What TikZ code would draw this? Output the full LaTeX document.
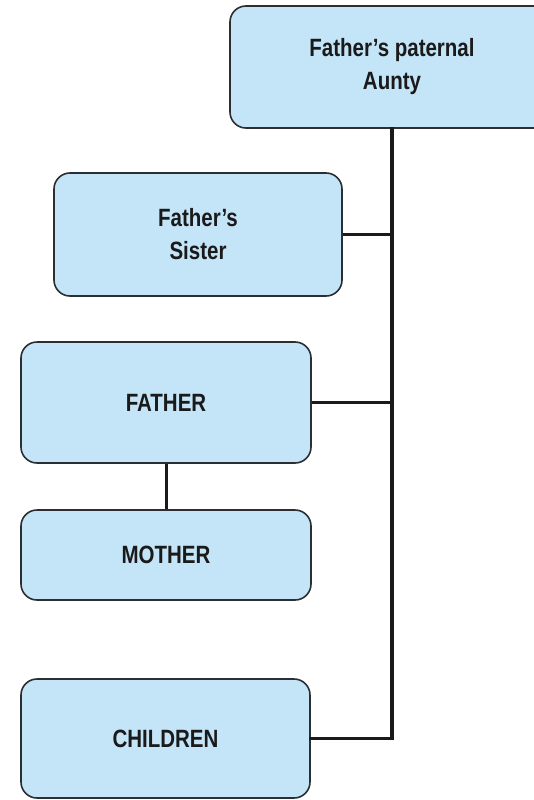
\documentclass[tikz,border=0pt]{standalone}
\usepackage{fontspec}
\setmainfont{Liberation Sans}[FakeStretch=0.82]
\usetikzlibrary{calc}
\definecolor{boxfill}{HTML}{C4E5F7}
\definecolor{ink}{HTML}{1A1A1A}
\definecolor{edge}{HTML}{2B2F33}

\begin{document}
\begin{tikzpicture}[
    x=1pt, y=-1pt,
    every node/.style={font=\fontsize{25}{33}\selectfont\bfseries, text=ink},
    % Family member box
    member/.style={rectangle, rounded corners=16pt, draw=edge, line width=1.6pt,
                   fill=boxfill, align=center, inner sep=0pt},
    % Connecting line
    link/.style={line width=3.6pt, ink}
]
\useasboundingbox (0, 0) rectangle (534, 800);

% ---------- Top: paternal aunty ----------
\node[member, minimum width=324pt, minimum height=122pt] at (392, 67) (aunty) {Father's paternal\\Aunty};

% ---------- Left column ----------
\node[member, minimum width=288pt, minimum height=123pt] at (198, 234.5) (sister) {Father's\\Sister};
\node[member, minimum width=290pt, minimum height=121pt] at (166, 402.5) (father) {FATHER};
\node[member, minimum width=290pt, minimum height=90pt] at (166, 555) (mother) {MOTHER};
\node[member, minimum width=289pt, minimum height=119pt] at (165.5, 738.5) (children) {CHILDREN};

% ---------- Trunk from aunty down to children ----------
\draw[link, line cap=rect] (aunty.south) |- (children.east);

% ---------- Branches to the trunk ----------
\draw[link] (sister.east) -- (sister.east -| aunty.south);
\draw[link] (father.east) -- (father.east -| aunty.south);

% Father -- Mother
\draw[link, line width=3pt] (father.south) -- (mother.north);

\end{tikzpicture}
\end{document}
